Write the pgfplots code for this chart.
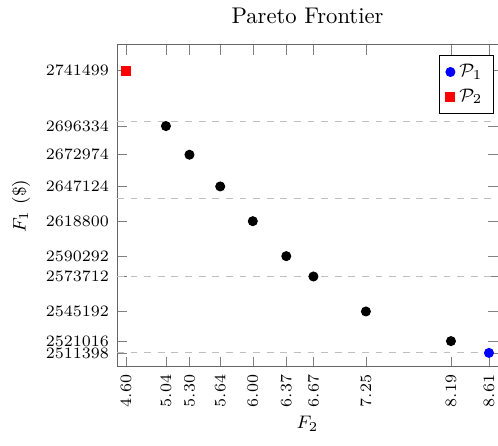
\documentclass[border=0pt]{standalone}
\usepackage{pgfplots}
\pgfplotsset{compat=1.18}
\begin{document}
\begin{tikzpicture}[trim axis right]
\begin{axis}[
  scale only axis,
  width=168pt, height=142pt,
  xmin=4.5, xmax=8.71,
  ymin=2500000, ymax=2762500,
  title={Pareto Frontier},
  title style={font=\normalsize},
  xlabel={$F_2$},
  ylabel={$F_1$ (\$)},
  label style={font=\footnotesize},
  xlabel style={yshift=3pt},
  tick label style={font=\scriptsize},
  xtick={4.60,5.04,5.30,5.64,6.00,6.37,6.67,7.25,8.19,8.61},
  xticklabel style={rotate=90, anchor=east, /pgf/number format/.cd, fixed, fixed zerofill, precision=2},
  ytick={2511398,2521016,2545192,2573712,2590292,2618800,2647124,2672974,2696334,2741499},
  yticklabel style={/pgf/number format/.cd, fixed, precision=0, 1000 sep={}},
  scaled y ticks=false,
  scaled x ticks=false,
  axis line style={black!60},
  major tick style={black!50},
  legend style={at={(0.99,0.97)}, anchor=north east, draw=black, font=\footnotesize},
  legend cell align=left,
]
\addplot[dashed, gray!50, forget plot] coordinates {(4.5,2511398) (8.71,2511398)};
\addplot[dashed, gray!50, forget plot] coordinates {(4.5,2573712) (8.71,2573712)};
\addplot[dashed, gray!50, forget plot] coordinates {(4.5,2637000) (8.71,2637000)};
\addplot[dashed, gray!50, forget plot] coordinates {(4.5,2700000) (8.71,2700000)};
\addplot[only marks, mark=*, mark size=2pt, black, forget plot] coordinates {
  (5.04,2696334) (5.30,2672974) (5.64,2647124) (6.00,2618800)
  (6.37,2590292) (6.67,2573712) (7.25,2545192) (8.19,2521016)};
\addplot[only marks, mark=*, mark size=2pt, blue] coordinates {(8.61,2511398)};
\addlegendentry{$\mathcal{P}_1$}
\addplot[only marks, mark=square*, mark size=2pt, red] coordinates {(4.60,2741499)};
\addlegendentry{$\mathcal{P}_2$}
\end{axis}
\path (current bounding box.south west) ++(-2pt,-3pt);
\end{tikzpicture}
\end{document}
